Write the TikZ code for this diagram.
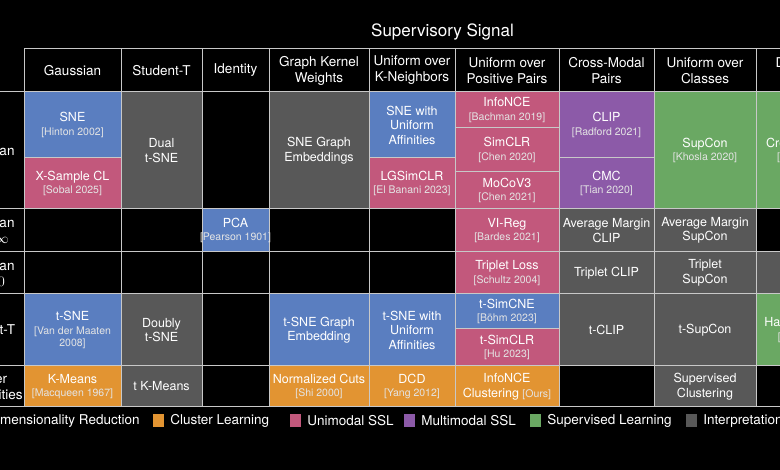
\documentclass[tikz,border=0pt]{standalone}
\usepackage{fontspec}
\setmainfont{TeX Gyre Heros}
\usepackage{tikz}
\usetikzlibrary{positioning}

\definecolor{dimred}{RGB}{90,126,192}
\definecolor{unissl}{RGB}{194,88,124}
\definecolor{multissl}{RGB}{140,90,168}
\definecolor{suplearn}{RGB}{106,168,99}
\definecolor{cluster}{RGB}{226,148,50}
\definecolor{interp}{RGB}{88,88,88}
\definecolor{gridgray}{RGB}{200,200,200}
\definecolor{citegray}{RGB}{228,228,228}

\newcommand{\paperref}[1]{{\color{citegray}\fontsize{10.5}{12.5}\selectfont #1}}

\begin{document}
\begin{tikzpicture}
  [x=1pt,y=-1pt,
   gridline/.style={draw=gridgray, line width=1pt},
   title/.style={text=white, font=\fontsize{17}{20}\selectfont},
   head/.style={text=white, font=\fontsize{13.5}{16}\selectfont, align=center, inner sep=0pt},
   entry/.style={text=white, font=\fontsize{12.5}{14.5}\selectfont, align=center, inner sep=0pt},
   legsq/.style={minimum width=11pt, minimum height=13pt, inner sep=0pt},
   legtxt/.style={text=white, font=\fontsize{13.5}{16}\selectfont, inner sep=0pt, anchor=west}]
  \useasboundingbox (0,0) rectangle (780,470);
  \clip (0,0) rectangle (780,470);
  \fill[black] (0,0) rectangle (780,470);

  % coloured cells
  \foreach \xa/\ya/\xb/\yb/\col in {24/92/121/158/dimred, 24/158/121/209/unissl,
    121/92/202/209/interp, 269/92/369/209/interp, 369/92/455/158/dimred,
    369/158/455/209/unissl, 455/92/559/209/unissl, 559/92/654/209/multissl,
    654/92/756/209/suplearn, 756/92/860/209/suplearn,
    202/209/269/252/dimred, 455/209/559/252/unissl, 559/209/756/252/interp,
    455/252/559/294/unissl, 559/252/860/294/interp,
    24/294/121/366/dimred, 121/294/202/366/interp, 269/294/455/366/dimred,
    455/294/559/329/dimred, 455/329/559/366/unissl, 559/294/756/366/interp,
    756/294/860/366/suplearn,
    24/366/121/407/cluster, 121/366/202/407/interp, 269/366/559/407/cluster,
    654/366/756/407/interp}
      \fill[\col] (\xa,\ya) rectangle (\xb,\yb);

  % grid
  \draw[gridline] (24,49) -- (780,49);
  \foreach \y in {92,209,252,294,366,407}
      \draw[gridline] (0,\y) -- (780,\y);
  \foreach \x in {24,121,202,269,369,455,559,654,756}
      \draw[gridline] (\x,49) -- (\x,407);
  \foreach \xa/\xb/\y in {24/121/158, 369/455/158, 455/559/128, 455/559/172,
    559/654/158, 455/559/329}
      \draw[gridline] (\xa,\y) -- (\xb,\y);

  \node[title] (signal) at (442.5,32) {Supervisory Signal};

  % column heads
  \node[head] (hgauss) at (72.5,70.5) {Gaussian};
  \node[head] (hstud) at (161.5,70.5) {Student-T};
  \node[head] (hident) at (235.5,70.5) {Identity};
  \node[head] (hgraph) at (319,70.5) {Graph Kernel\\Weights};
  \node[head] (hknn) at (412,70.5) {Uniform over\\K-Neighbors};
  \node[head] (hpos) at (507,70.5) {Uniform over\\Positive Pairs};
  \node[head] (hcross) at (606.5,70.5) {Cross-Modal\\Pairs};
  \node[head] (hclass) at (705,70.5) {Uniform over\\Classes};
  \node[head] (hdelta) at (806,70.5) {Delta over\\Classes};

  % row heads
  \node[head] (rgauss) at (-14,150.5) {Gaussian};
  \node[head] (rwide) at (-14,230.5) {Gaussian\\$\sigma\to\infty$};
  \node[head] (rnarrow) at (-14,273) {Gaussian\\$\sigma\to 0$};
  \node[head] (rstud) at (-14,330) {Student-T};
  \node[head] (rclus) at (-14,386.5) {Cluster\\Probabilities};

  % gaussian row
  \node[entry] (sne) at (72.5,125) {SNE\\[-1pt]\paperref{[Hinton 2002]}};
  \node[entry] (xsample) at (72.5,183.5) {X-Sample CL\\[-1pt]\paperref{[Sobal 2025]}};
  \node[entry] (dualtsne) at (161.5,150.5) {Dual\\t-SNE};
  \node[entry] (snegraph) at (319,150.5) {SNE Graph\\Embeddings};
  \node[entry] (sneunif) at (412,125) {SNE with\\Uniform\\Affinities};
  \node[entry] (lgsimclr) at (412,183.5) {LGSimCLR\\[-1pt]\paperref{[El Banani 2023]}};
  \node[entry] (infonce) at (507,110) {InfoNCE\\[-1pt]\paperref{[Bachman 2019]}};
  \node[entry] (simclr) at (507,150) {SimCLR\\[-1pt]\paperref{[Chen 2020]}};
  \node[entry] (mocov3) at (507,190.5) {MoCoV3\\[-1pt]\paperref{[Chen 2021]}};
  \node[entry] (clip) at (606.5,125) {CLIP\\[-1pt]\paperref{[Radford 2021]}};
  \node[entry] (cmc) at (606.5,183.5) {CMC\\[-1pt]\paperref{[Tian 2020]}};
  \node[entry] (supcon) at (705,150.5) {SupCon\\[-1pt]\paperref{[Khosla 2020]}};
  \node[entry] (xent) at (806,150.5) {Cross-Entropy\\[-1pt]\paperref{[Good 1963]}};

  % wide and narrow gaussian rows
  \node[entry] (pca) at (235.5,230.5) {PCA\\[-1pt]\paperref{[Pearson 1901]}};
  \node[entry] (vireg) at (507,230.5) {VI-Reg\\[-1pt]\paperref{[Bardes 2021]}};
  \node[entry] (avgclip) at (606.5,230.5) {Average Margin\\CLIP};
  \node[entry] (avgsupcon) at (705,230.5) {Average Margin\\SupCon};
  \node[entry] (triplet) at (507,273) {Triplet Loss\\[-1pt]\paperref{[Schultz 2004]}};
  \node[entry] (tripclip) at (606.5,273) {Triplet CLIP};
  \node[entry] (tripsupcon) at (705,273) {Triplet\\SupCon};

  % student-t row
  \node[entry] (tsne) at (72.5,330) {t-SNE\\[-1pt]\paperref{[Van der Maaten}\\[-2pt]\paperref{2008]}};
  \node[entry] (doubly) at (161.5,330) {Doubly\\t-SNE};
  \node[entry] (tsnegraph) at (319,330) {t-SNE Graph\\Embedding};
  \node[entry] (tsneunif) at (412,330) {t-SNE with\\Uniform\\Affinities};
  \node[entry] (tsimcne) at (507,311.5) {t-SimCNE\\[-1pt]\paperref{[Böhm 2023]}};
  \node[entry] (tsimclr) at (507,347.5) {t-SimCLR\\[-1pt]\paperref{[Hu 2023]}};
  \node[entry] (tclip) at (606.5,330) {t-CLIP};
  \node[entry] (tsupcon) at (705,330) {t-SupCon};
  \node[entry] (harmonic) at (806,330) {Harmonic Loss\\[-1pt]\paperref{[Baek 2025]}};

  % cluster row
  \node[entry] (kmeans) at (72.5,386.5) {K-Means\\[-1pt]\paperref{[Macqueen 1967]}};
  \node[entry] (tkmeans) at (161.5,386.5) {t K-Means};
  \node[entry] (ncuts) at (319,386.5) {Normalized Cuts\\[-1pt]\paperref{[Shi 2000]}};
  \node[entry] (dcd) at (412,386.5) {DCD\\[-1pt]\paperref{[Yang 2012]}};
  \node[entry] (infoclus) at (507,386.5) {InfoNCE\\Clustering \paperref{[Ours]}};
  \node[entry] (supclus) at (705,386.5) {Supervised\\Clustering};

  % legend
  \node[legsq, fill=dimred] (kdim) at (-24.5,421) {};
  \node[legtxt, right=6pt of kdim] (ldim) {Dimensionality Reduction};
  \node[legsq, fill=cluster] (kclus) at (158.5,421) {};
  \node[legtxt, right=6pt of kclus] (lclus) {Cluster Learning};
  \node[legsq, fill=unissl] (kuni) at (295.5,421) {};
  \node[legtxt, right=6pt of kuni] (luni) {Unimodal SSL};
  \node[legsq, fill=multissl] (kmulti) at (409.5,421) {};
  \node[legtxt, right=6pt of kmulti] (lmulti) {Multimodal SSL};
  \node[legsq, fill=suplearn] (ksup) at (535.5,421) {};
  \node[legtxt, right=6pt of ksup] (lsup) {Supervised Learning};
  \node[legsq, fill=interp] (kint) at (691.5,421) {};
  \node[legtxt, right=6pt of kint] (lint) {Interpretation};
\end{tikzpicture}
\end{document}
